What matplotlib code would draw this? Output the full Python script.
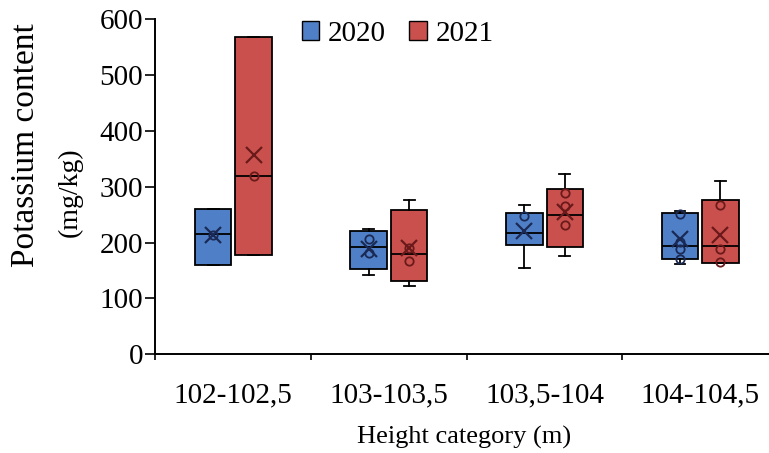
import matplotlib.pyplot as plt
from matplotlib.patches import Patch

categories = ["102-102,5", "103-103,5", "103,5-104", "104-104,5"]
years = ["2020", "2021"]

# box statistics per height category, mg/kg
q1_2020 = [160, 152, 195, 170]
med_2020 = [215, 193, 217, 194]
q3_2020 = [260, 220, 253, 253]
lo_2020 = [160, 142, 155, 161]
hi_2020 = [260, 224, 267, 257]
mean_2020 = [213, 188, 220, 206]
pts_2020 = [[213], [207, 181], [247], [252, 202, 189, 170]]

q1_2021 = [177, 131, 193, 164]
med_2021 = [320, 179, 250, 194]
q3_2021 = [568, 258, 296, 277]
lo_2021 = [177, 122, 176, 164]
hi_2021 = [568, 277, 323, 310]
mean_2021 = [357, 190, 254, 213]
pts_2021 = [[320], [190, 167], [288, 266, 232], [267, 188, 166]]

colors = ["#4f7fc6", "#c9504d"]
dark = ["#1a2a55", "#6a1a1a"]
serif = "Liberation Serif"

fig = plt.figure(figsize=(7.69, 4.53), dpi=100)
ax = fig.add_axes([0.2022, 0.2179, 0.8095, 0.7395])

series = [
    (q1_2020, med_2020, q3_2020, lo_2020, hi_2020, mean_2020, pts_2020),
    (q1_2021, med_2021, q3_2021, lo_2021, hi_2021, mean_2021, pts_2021),
]
offsets = [-0.13, 0.13]
width = 0.235

for k, (q1, med, q3, lo, hi, mean, pts) in enumerate(series):
    stats = []
    for i in range(len(categories)):
        stats.append(dict(q1=q1[i], med=med[i], q3=q3[i],
                          whislo=lo[i], whishi=hi[i], fliers=[]))
    pos = [i + offsets[k] for i in range(len(categories))]
    ax.bxp(stats, positions=pos, widths=width, patch_artist=True,
           showfliers=False, capwidths=0.07,
           boxprops=dict(facecolor=colors[k], edgecolor="black", linewidth=1.3),
           medianprops=dict(color="black", linewidth=1.3),
           whiskerprops=dict(color="black", linewidth=1.3),
           capprops=dict(color="black", linewidth=1.3))
    for i in range(len(categories)):
        ax.plot([pos[i]] * len(pts[i]), pts[i], "o", ms=6, mfc="none",
                mec=dark[k], mew=1.3, zorder=4)
    ax.plot(pos, mean, "x", ms=11, mec=dark[k], mew=1.6, zorder=5)

ax.set_xlim(-0.5, 3.5)
ax.set_ylim(0, 600)
ax.set_yticks(range(0, 601, 100))
ax.set_xticks(range(len(categories)))
ax.set_xticklabels(categories, fontfamily=serif, fontsize=21)
ax.set_xticks([-0.5, 0.5, 1.5, 2.5], minor=True)
ax.tick_params(axis="x", which="major", length=0, pad=20)
ax.tick_params(axis="x", which="minor", length=4, width=1.2)
ax.tick_params(axis="y", length=7, width=1.2, pad=2, labelsize=21)
for lbl in ax.get_yticklabels():
    lbl.set_fontfamily(serif)

for side in ["top", "right"]:
    ax.spines[side].set_visible(False)
for side in ["left", "bottom"]:
    ax.spines[side].set_linewidth(1.4)

fig.text(0.034, 0.68, "Potassium content", rotation=90, ha="center",
         va="center", fontfamily=serif, fontsize=24)
fig.text(0.091, 0.576, "(mg/kg)", rotation=90, ha="center", va="center",
         fontfamily=serif, fontsize=20)
fig.text(0.604, 0.035, "Height category (m)", ha="center", va="center",
         fontfamily=serif, fontsize=19)

handles = [Patch(facecolor=c, edgecolor="black", linewidth=1.0) for c in colors]
fig.legend(handles, years, loc="center", bbox_to_anchor=(0.517, 0.925),
           ncol=2, frameon=False, prop=dict(family=serif, size=21),
           handlelength=0.6, handleheight=0.6, handletextpad=0.3,
           columnspacing=0.8)

fig.savefig("out.png", dpi=100)
